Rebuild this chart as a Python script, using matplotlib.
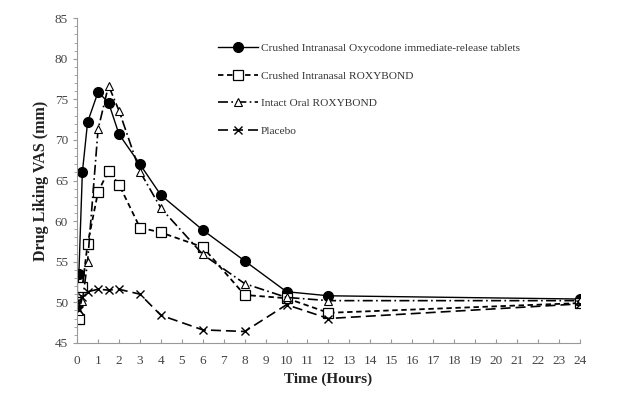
import numpy as np
import matplotlib
matplotlib.use('Agg')
from matplotlib import pyplot as plt
from matplotlib.ticker import MultipleLocator

plt.rcParams['font.family'] = ['Liberation Serif', 'DejaVu Serif']

# time points (hours)
TIME = [0, 0.083, 0.25, 0.5, 1, 1.5, 2, 3, 4, 6, 8, 10, 12, 24]

OXY_IR = [50.0, 53.5, 66.0, 72.2, 75.9, 74.6, 70.7, 67.0, 63.2, 58.9, 55.1, 51.3, 50.8, 50.4]
ROXY_IN = [50.0, 47.9, 51.9, 57.2, 63.6, 66.2, 64.5, 59.2, 58.6, 56.8, 50.9, 50.5, 48.7, 49.9]
ROXY_ORAL = [50.0, 48.9, 50.1, 55.0, 71.3, 76.7, 73.6, 66.1, 61.6, 55.9, 52.3, 50.6, 50.2, 50.2]
PLACEBO = [50.0, 49.0, 50.6, 51.3, 51.6, 51.5, 51.6, 51.0, 48.4, 46.6, 46.4, 49.7, 48.0, 49.8]

fig = plt.figure(figsize=(6.22, 3.95), dpi=100)
ax = fig.add_axes([0.124, 0.132, 0.808, 0.822])

ax.plot(TIME, OXY_IR, color='black', linestyle='-', linewidth=1.0, marker='o',
        markersize=7, markerfacecolor='black',
        label='Crushed Intranasal Oxycodone immediate-release tablets')
ax.plot(TIME, ROXY_IN, color='black', linestyle=(0, (3, 2)), linewidth=1.3, marker='s',
        markersize=7, markerfacecolor='white', markeredgewidth=0.9,
        label='Crushed Intranasal ROXYBOND')
ax.plot(TIME, ROXY_ORAL, color='black', linestyle=(0, (6, 2, 1, 2)), linewidth=1.2, marker='^',
        markersize=6, markerfacecolor='white', markeredgewidth=0.8,
        label='Intact Oral ROXYBOND')
ax.plot(TIME, PLACEBO, color='black', linestyle=(0, (6, 3)), linewidth=1.2, marker='x',
        markersize=6, markeredgewidth=1.0,
        label='Placebo')

ax.set_xlim(0, 24)
ax.set_ylim(45, 85)
ax.xaxis.set_major_locator(MultipleLocator(1))
ax.yaxis.set_major_locator(MultipleLocator(5))
ax.yaxis.set_minor_locator(MultipleLocator(1))

for s in ['top', 'right']:
    ax.spines[s].set_visible(False)
for s in ['left', 'bottom']:
    ax.spines[s].set_color('#999999')
    ax.spines[s].set_linewidth(0.8)

ax.tick_params(axis='both', which='both', colors='#999999', labelcolor='#444444', labelsize=9.5)
ax.tick_params(axis='x', which='major', direction='in', length=3, pad=9)
ax.tick_params(axis='y', which='major', direction='out', length=3)
ax.tick_params(axis='y', which='minor', direction='out', length=2)

ax.set_xlabel('Time (Hours)', fontsize=11, fontweight='bold', color='#222222', labelpad=4)
ax.set_ylabel('Drug Liking VAS (mm)', fontsize=11.5, fontweight='bold', color='#222222')
ax.yaxis.set_label_coords(-0.055, 0.5)

ax.legend(loc='upper left', bbox_to_anchor=(0.26, 0.955), frameon=False, fontsize=8.2,
          handlelength=3.5, handletextpad=0.25, labelspacing=1.55, labelcolor='#333333')

plt.savefig('out.png', dpi=100)
